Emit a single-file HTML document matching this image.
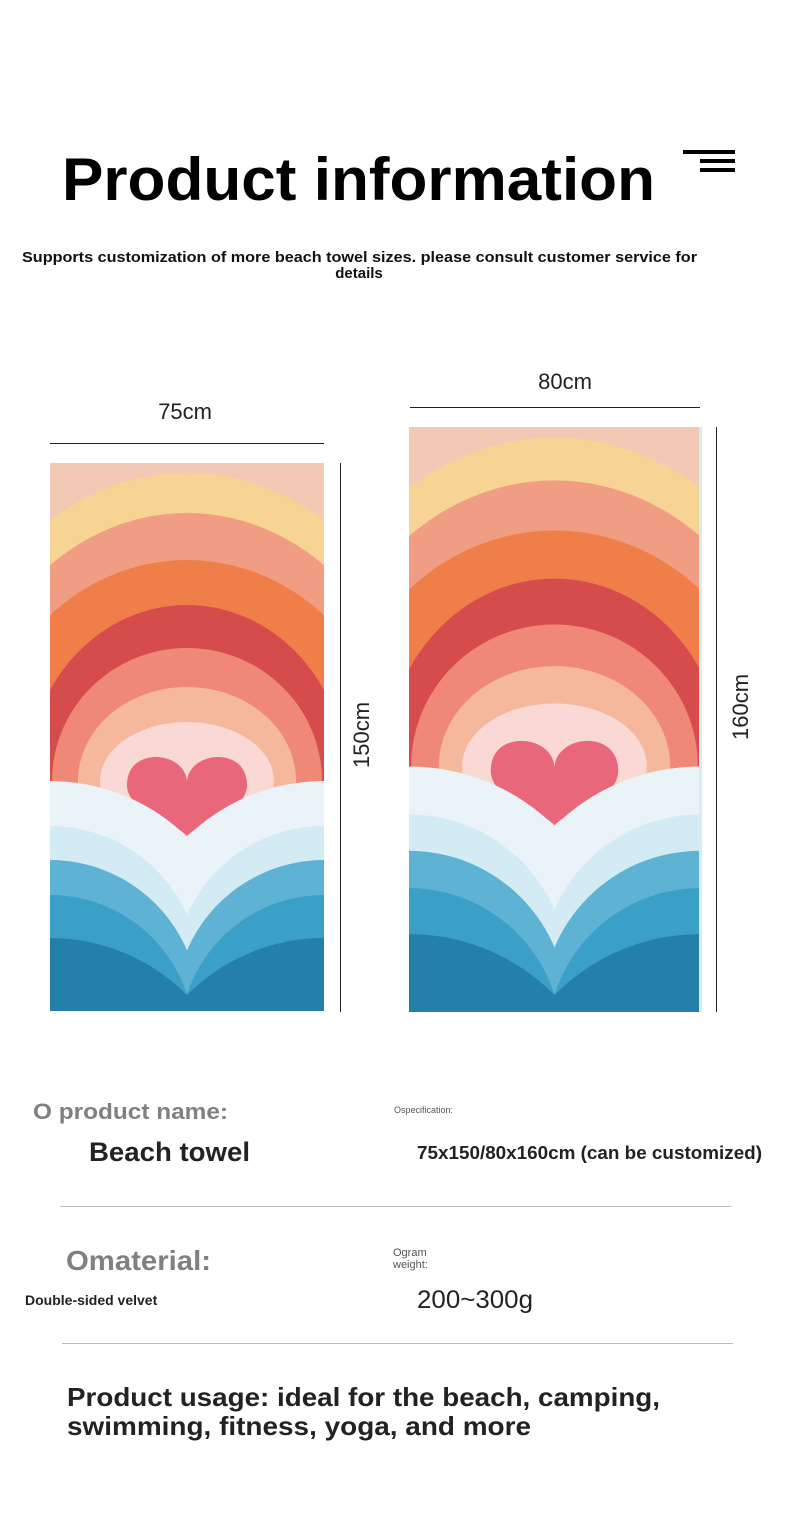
<!DOCTYPE html>
<html><head><meta charset="utf-8"><style>
html,body{margin:0;padding:0;background:#fff;}
svg{display:block;}
text{font-family:"Liberation Sans",sans-serif;}
</style></head><body>
<svg width="790" height="1537" viewBox="0 0 790 1537" xmlns="http://www.w3.org/2000/svg">
<defs>
<g id="towel">
  <rect x="0" y="0" width="274" height="548" fill="#f2c9b5"/>
  <ellipse cx="137" cy="318" rx="258" ry="308" fill="#f8d494"/>
  <ellipse cx="137" cy="318" rx="231" ry="268" fill="#f19d83"/>
  <ellipse cx="137" cy="318" rx="207" ry="221" fill="#ef7e48"/>
  <ellipse cx="137" cy="318" rx="160" ry="176" fill="#d64b4c"/>
  <ellipse cx="137" cy="318" rx="135" ry="133" fill="#ef8877"/>
  <ellipse cx="137" cy="318" rx="109" ry="94" fill="#f6b89c"/>
  <ellipse cx="137" cy="318" rx="87" ry="59" fill="#f9d8d6"/>
  <path d="M137,320 C137,288 77,282 77,322 C77,348 120,356 137,373 C154,356 197,348 197,322 C197,282 137,288 137,320Z" fill="#e9677a"/>
  <circle cx="0" cy="514" r="196" fill="#eaf3f7"/><circle cx="274" cy="514" r="196" fill="#eaf3f7"/>
  <circle cx="0" cy="513" r="150" fill="#d3ebf3"/><circle cx="274" cy="513" r="150" fill="#d3ebf3"/>
  <circle cx="0" cy="546" r="149" fill="#5eb2d4"/><circle cx="274" cy="546" r="149" fill="#5eb2d4"/>
  <circle cx="0" cy="576" r="144" fill="#3aa0c8"/><circle cx="274" cy="576" r="144" fill="#3aa0c8"/>
  <circle cx="0" cy="668" r="193" fill="#2480a8"/><circle cx="274" cy="668" r="193" fill="#2480a8"/>
</g>
<clipPath id="tc"><rect x="0" y="0" width="274" height="548"/></clipPath>
</defs>

<text x="62" y="200" font-size="60" font-weight="bold" fill="#000" textLength="593" lengthAdjust="spacingAndGlyphs">Product information</text>
<rect x="683" y="150" width="52" height="4" fill="#000"/>
<rect x="700" y="159" width="35" height="4" fill="#000"/>
<rect x="700" y="168" width="35" height="4" fill="#000"/>

<text x="22" y="262" font-size="15" font-weight="bold" fill="#111" textLength="675" lengthAdjust="spacingAndGlyphs">Supports customization of more beach towel sizes. please consult customer service for</text>
<text x="359" y="278" font-size="15" font-weight="bold" fill="#111" text-anchor="middle">details</text>

<text x="185" y="419" font-size="22" fill="#222" text-anchor="middle">75cm</text>
<rect x="50" y="443" width="274" height="1" fill="#222"/>
<rect x="340" y="463" width="1" height="549" fill="#222"/>
<text transform="translate(369,735) rotate(-90)" font-size="22" fill="#222" text-anchor="middle">150cm</text>

<text x="565" y="389" font-size="22" fill="#222" text-anchor="middle">80cm</text>
<rect x="410" y="407" width="290" height="1" fill="#222"/>
<rect x="716" y="427" width="1" height="585" fill="#222"/>
<text transform="translate(748,707) rotate(-90)" font-size="22" fill="#222" text-anchor="middle">160cm</text>

<svg x="50" y="463" width="274" height="548" viewBox="0 0 274 548" preserveAspectRatio="none"><g clip-path="url(#tc)"><use href="#towel"/></g></svg>
<svg x="409" y="427" width="291" height="585" viewBox="0 0 274 548" preserveAspectRatio="none"><g clip-path="url(#tc)"><use href="#towel"/></g></svg>
<rect x="699" y="427" width="3" height="585" fill="#d6eef0"/>

<text x="33" y="1119" font-size="22" font-weight="bold" fill="#808080" textLength="195" lengthAdjust="spacingAndGlyphs">O product name:</text>
<text x="394" y="1113" font-size="9" fill="#555">Ospecification:</text>
<text x="89" y="1161" font-size="27" font-weight="bold" fill="#222" textLength="161" lengthAdjust="spacingAndGlyphs">Beach towel</text>
<text x="417" y="1159" font-size="18" font-weight="bold" fill="#222" textLength="345" lengthAdjust="spacingAndGlyphs">75x150/80x160cm (can be customized)</text>
<rect x="60" y="1206" width="671" height="1" fill="#bbb"/>

<text x="66" y="1270" font-size="28" font-weight="bold" fill="#808080" textLength="145" lengthAdjust="spacingAndGlyphs">Omaterial:</text>
<text x="393" y="1256" font-size="11" fill="#555">Ogram</text>
<text x="393" y="1268" font-size="11" fill="#555">weight:</text>
<text x="25" y="1305" font-size="14" font-weight="bold" fill="#222">Double-sided velvet</text>
<text x="417" y="1308" font-size="25" fill="#222" textLength="116" lengthAdjust="spacingAndGlyphs">200~300g</text>
<rect x="62" y="1343" width="671" height="1" fill="#bbb"/>

<text x="67" y="1406" font-size="26" font-weight="bold" fill="#222" textLength="593" lengthAdjust="spacingAndGlyphs">Product usage: ideal for the beach, camping,</text>
<text x="67" y="1435" font-size="26" font-weight="bold" fill="#222" textLength="464" lengthAdjust="spacingAndGlyphs">swimming, fitness, yoga, and more</text>
</svg>
</body></html>
